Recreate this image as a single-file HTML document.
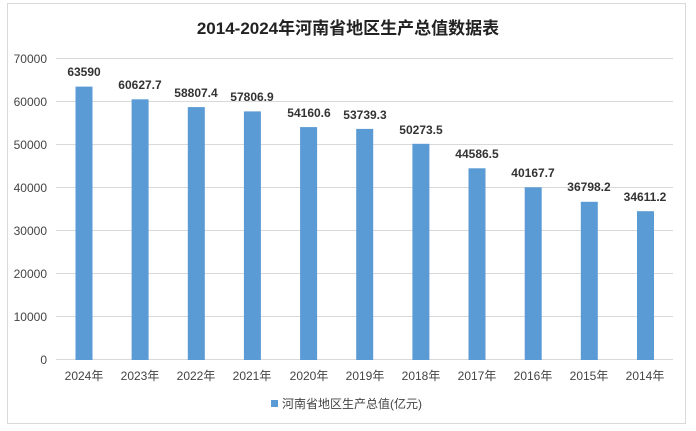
<!DOCTYPE html>
<html><head><meta charset="utf-8"><style>
body{margin:0;background:#fff;}
svg{display:block;font-family:"Liberation Sans","Noto Sans CJK SC",sans-serif;}
</style></head><body>
<svg width="696" height="431" viewBox="0 0 696 431">
<rect x="0" y="0" width="696" height="431" fill="#fff"/>
<rect x="7.5" y="3.5" width="678" height="420" fill="#fff" stroke="#d9d9d9"/>
<text x="348" y="34" text-anchor="middle" font-size="17" font-weight="bold" fill="#222">2014-2024年河南省地区生产总值数据表</text>
<g stroke="#d9d9d9" stroke-width="1">
<line x1="56" x2="673" y1="359.5" y2="359.5"/>
<line x1="56" x2="673" y1="316.5" y2="316.5"/>
<line x1="56" x2="673" y1="273.5" y2="273.5"/>
<line x1="56" x2="673" y1="230.5" y2="230.5"/>
<line x1="56" x2="673" y1="187.5" y2="187.5"/>
<line x1="56" x2="673" y1="144.5" y2="144.5"/>
<line x1="56" x2="673" y1="101.5" y2="101.5"/>
<line x1="56" x2="673" y1="58.5" y2="58.5"/>
</g>
<g font-size="12" fill="#444" text-anchor="end">
<text x="47" y="364">0</text>
<text x="47" y="321">10000</text>
<text x="47" y="278">20000</text>
<text x="47" y="235">30000</text>
<text x="47" y="192">40000</text>
<text x="47" y="149">50000</text>
<text x="47" y="106">60000</text>
<text x="47" y="63">70000</text>
</g>
<g fill="#5b9bd5">
<rect x="75.5" y="86.6" width="17" height="273.4"/>
<rect x="131.6" y="99.3" width="17" height="260.7"/>
<rect x="187.8" y="107.1" width="17" height="252.9"/>
<rect x="243.9" y="111.4" width="17" height="248.6"/>
<rect x="300.1" y="127.1" width="17" height="232.9"/>
<rect x="356.2" y="128.9" width="17" height="231.1"/>
<rect x="412.4" y="143.8" width="17" height="216.2"/>
<rect x="468.5" y="168.3" width="17" height="191.7"/>
<rect x="524.7" y="187.3" width="17" height="172.7"/>
<rect x="580.8" y="201.8" width="17" height="158.2"/>
<rect x="637" y="211.2" width="17" height="148.8"/>
</g>
<g font-size="12" font-weight="bold" fill="#333" text-anchor="middle">
<text x="84" y="76">63590</text>
<text x="140" y="89">60627.7</text>
<text x="196" y="97">58807.4</text>
<text x="252" y="101">57806.9</text>
<text x="309" y="117">54160.6</text>
<text x="365" y="119">53739.3</text>
<text x="421" y="134">50273.5</text>
<text x="477" y="158">44586.5</text>
<text x="533" y="177">40167.7</text>
<text x="589" y="191">36798.2</text>
<text x="645" y="201">34611.2</text>
</g>
<g font-size="12" fill="#444" text-anchor="middle">
<text x="84" y="380">2024年</text>
<text x="140" y="380">2023年</text>
<text x="196" y="380">2022年</text>
<text x="252" y="380">2021年</text>
<text x="309" y="380">2020年</text>
<text x="365" y="380">2019年</text>
<text x="421" y="380">2018年</text>
<text x="477" y="380">2017年</text>
<text x="533" y="380">2016年</text>
<text x="589" y="380">2015年</text>
<text x="645" y="380">2014年</text>
</g>
<rect x="271" y="400" width="7" height="7" fill="#5b9bd5"/>
<text x="282" y="408" font-size="12" fill="#444">河南省地区生产总值(亿元)</text>
</svg>
</body></html>
